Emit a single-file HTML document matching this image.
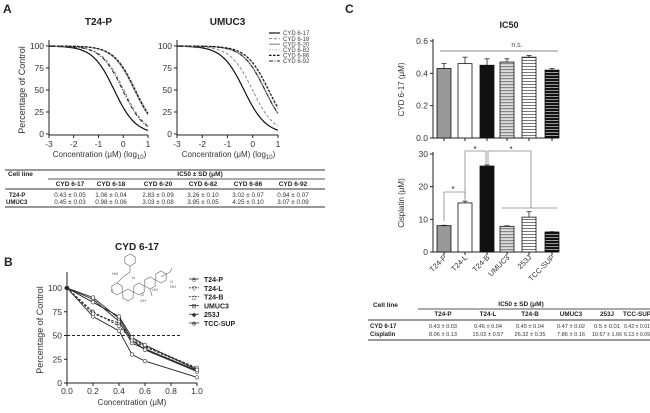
<!DOCTYPE html>
<html><head><meta charset="utf-8"><style>
body{margin:0;background:#fff;}
svg{display:block;font-family:"Liberation Sans",Arial,sans-serif;}
</style></head><body>
<svg id="fig" width="650" height="413" viewBox="0 0 650 413">
<defs>
<pattern id="stripeLight" width="4" height="3" patternUnits="userSpaceOnUse"><rect width="4" height="3" fill="#ddd"/><rect width="4" height="1.2" fill="#888"/></pattern>
<pattern id="stripeWhite" width="4" height="3" patternUnits="userSpaceOnUse"><rect width="4" height="3" fill="#fff"/><rect width="4" height="1" fill="#777"/></pattern>
<pattern id="stripeDark" width="4" height="3" patternUnits="userSpaceOnUse"><rect width="4" height="3" fill="#111"/><rect width="4" height="1" fill="#999"/></pattern>
</defs>
<g id="root"></g>
</svg>
<script>
// ---- Panel A data
const aCompounds = ["CYD 6-17","CYD 6-18","CYD 6-20","CYD 6-82","CYD 6-86","CYD 6-92"];
const aIC50T24P = [0.43,1.06,2.83,3.26,3.02,0.94];
const aIC50UMUC3 = [0.45,0.98,3.03,3.95,4.25,3.07];
const aSdT24P = ["0.05","0.04","0.09","0.10","0.07","0.07"];
const aSdUMUC3 = ["0.03","0.06","0.08","0.05","0.10","0.09"];
const aXTicks = [-3,-2,-1,0,1];
const aYTicks = [0,25,50,75,100];
// ---- Panel B data
const bConc = [0,0.2,0.4,0.5,0.6,1.0];
const bSeriesNames = ["T24-P","T24-L","T24-B","UMUC3","253J","TCC-SUP"];
const bT24P = [100,70,55,30,23,6];
const bT24L = [100,75,60,45,38,15];
const bT24B = [100,73,63,47,39,16];
const bUMUC3 = [100,88,65,42,36,13];
const b253J = [100,90,68,45,35,12];
const bTCCSUP = [100,85,70,48,40,14];
const bXTicks = [0,0.2,0.4,0.6,0.8,1.0];
const bYTicks = [0,25,50,75,100];
// ---- Panel C data
const cCells = ["T24-P","T24-L","T24-B","UMUC3","253J","TCC-SUP"];
const cCyd = [0.43,0.46,0.45,0.47,0.50,0.42];
const cCydSd = [0.03,0.04,0.04,0.02,0.01,0.01];
const cCis = [8.06,15.02,26.32,7.86,10.67,6.13];
const cCisSd = [0.13,0.57,0.35,0.16,1.66,0.09];
const cCydTicks = [0.0,0.2,0.4,0.6];
const cCisTicks = [0,10,20,30];

const NS="http://www.w3.org/2000/svg";
const root=document.getElementById('root');
function el(tag,attrs,parent,text){const e=document.createElementNS(NS,tag);for(const k in attrs)e.setAttribute(k,attrs[k]);if(text!==undefined)e.textContent=text;(parent||root).appendChild(e);return e;}

function txt(x,y,s,size,opt,name){
  const t=el('text',Object.assign({x:x,y:y,'font-size':size,fill:'#222'},opt||{}),root,s);
  
  
  return t;
}
function line(x1,y1,x2,y2,stroke,w,dash){return el('line',{x1,y1,x2,y2,stroke:stroke||'#222','stroke-width':w||1,'stroke-dasharray':dash||'none'});}

txt(3,13,"A",12,{'font-weight':'bold'},'panel-a-label');
txt(4,266,"B",12,{'font-weight':'bold'},'panel-b-label');
txt(345,13,"C",12,{'font-weight':'bold'},'panel-c-label');

const styles=[{s:'#111',d:'none',w:1.2},{s:'#888',d:'3,2',w:1},{s:'#999',d:'none',w:1.3},{s:'#bbb',d:'1.5,1.5',w:1},{s:'#111',d:'2.5,1.5',w:1.2},{s:'#222',d:'4,1.5,1,1.5',w:1}];
function doseChart(x0,x1,title,ic){
  const y0=134,y1=46;
  const xs=v=>x0+(v+3)/4*(x1-x0);
  const ys=v=>y0-v/100*(y0-y1);
  txt((x0+x1)/2,25,title,10,{'text-anchor':'middle','font-weight':'bold'},'chart-title');
  line(x0,y0+1,x0,40);line(x0,y0+1,x1,y0+1);
  aYTicks.forEach(v=>{line(x0-3,ys(v),x0,ys(v));txt(x0-5,ys(v)+3,String(v),8.5,{'text-anchor':'end','fill':'#333'},'y-tick-label');});
  aXTicks.forEach(v=>{line(xs(v),y0+1,xs(v),y0+4);txt(xs(v),y0+13,String(v),8.5,{'text-anchor':'middle','fill':'#333'},'x-tick-label');});
  const xt=txt((x0+x1)/2+1,y0+23,"Concentration (μM) (log",8,{'text-anchor':'middle','fill':'#333'},'x-axis-title');
  el('tspan',{'font-size':6,dy:2},xt,"10");el('tspan',{dy:-2},xt,")");
  ic.forEach((c,i)=>{
    const lc=Math.log10(c);let d='';
    for(let k=0;k<=80;k++){const x=-3+4*k/80;const y=100/(1+Math.pow(10,x-lc));d+=(k?'L':'M')+xs(x).toFixed(1)+','+ys(y).toFixed(1);}
    const p=el('path',{d:d,fill:'none',stroke:styles[i].s,'stroke-width':styles[i].w,'stroke-dasharray':styles[i].d});
    
    
  });
}
doseChart(49,148,"T24-P",aIC50T24P);
doseChart(177,278,"UMUC3",aIC50UMUC3);
txt(0,0,"Percentage of Control",9,{'text-anchor':'middle','transform':'translate(25,90) rotate(-90)','fill':'#333'},'y-axis-title');
aCompounds.forEach((n,i)=>{const y=33+i*5.6;const l=line(269,y,280,y,styles[i].s,styles[i].w,styles[i].d);txt(283,y+2.2,n,6,{'fill':'#444'},'legend-entry');});

line(5,170,325,170,'#333',1);
txt(8,176,"Cell line",6.5,{'font-weight':'bold'},'table-a-header');
txt(200,176,"IC50 ± SD (μM)",6.5,{'font-weight':'bold','text-anchor':'middle'},'table-a-header');
line(48,179,325,179,'#555',1);
const aCols=[70,111,158,203,248,293];
aCompounds.forEach((n,i)=>txt(aCols[i],186,n,6.5,{'font-weight':'bold','text-anchor':'middle'},'table-a-col-header'));
line(5,189,325,189,'#333',1);
txt(9,197,"T24-P",6,{'font-weight':'bold'},'table-a-row-label');
txt(6,204,"UMUC3",6,{'font-weight':'bold'},'table-a-row-label');
aCompounds.forEach((n,i)=>{txt(aCols[i],197,aIC50T24P[i].toFixed(2)+" ± "+aSdT24P[i],6.3,{'text-anchor':'middle','fill':'#333'},'table-a-cell');txt(aCols[i],204,aIC50UMUC3[i].toFixed(2)+" ± "+aSdUMUC3[i],6.3,{'text-anchor':'middle','fill':'#333'},'table-a-cell');});
line(5,207,325,207,'#333',1);

(function(){
  const x0=67,x1=197,y0=383,y1=288;
  const xs=v=>x0+v*(x1-x0);const ys=v=>y0-v/100*(y0-y1);
  txt(137,250,"CYD 6-17",10,{'text-anchor':'middle','font-weight':'bold'},'chart-b-title');
  const g=el('g',{stroke:'#777',fill:'none','stroke-width':0.7});
  function hex(cx,cy,r){let d='';for(let k=0;k<6;k++){const a=Math.PI/6+k*Math.PI/3;d+=(k?'L':'M')+(cx+r*Math.cos(a)).toFixed(1)+','+(cy+r*Math.sin(a)).toFixed(1);}el('path',{d:d+'Z'},g);}
  hex(130,260,6);hex(117,289,6);hex(128,295,6);hex(139,289,6);hex(150,283,6);hex(161,277,6);
  el('path',{d:'M130,266L130,272L123,277L117,283M161,277L170,272L172,268M150,289L152,296'},g);
  [["HN",112,275],["N",132,279],["S",111,292],["OH",170,288],["O",170,283],["OH",152,291],["OH",140,302],["O",141,296]].forEach(a=>txt(a[1],a[2],a[0],4,{'fill':'#555'},'structure-atom'));
  line(x0,y0,x0,272);line(x0,y0,x1,y0);
  bYTicks.forEach(v=>{line(x0-3,ys(v),x0,ys(v));txt(x0-5,ys(v)+3,String(v),8.5,{'text-anchor':'end','fill':'#333'},'y-tick-label');});
  bXTicks.forEach(v=>{line(xs(v),y0,xs(v),y0+3);txt(xs(v),y0+11,v.toFixed(1),8.5,{'text-anchor':'middle','fill':'#333'},'x-tick-label');});
  txt(132,405,"Concentration (μM)",8,{'text-anchor':'middle','fill':'#333'},'x-axis-title');
  txt(0,0,"Percentage of Control",9,{'text-anchor':'middle','transform':'translate(43,330) rotate(-90)','fill':'#333'},'y-axis-title');
  const ref=line(x0,ys(50),182,ys(50),'#222',1,'3,2');
  const series=[bT24P,bT24L,bT24B,bUMUC3,b253J,bTCCSUP];
  const dashes=['none','2.5,1.5','2.5,1.5','none','none','none'];
  series.forEach((s,i)=>{
    const d=s.map((v,k)=>(k?'L':'M')+xs(bConc[k]).toFixed(1)+','+ys(v).toFixed(1)).join('');
    const p=el('path',{d:d,fill:'none',stroke:'#222','stroke-width':0.9,'stroke-dasharray':dashes[i]});
    
    s.forEach((v,k)=>{const c=el('circle',{cx:xs(bConc[k]),cy:ys(v),r:1.8,fill:k==0?'#222':'#fff',stroke:'#333','stroke-width':0.6});});
  });
  const mk=['⊖','▽','△','⊟','◆','⊕'];
  bSeriesNames.forEach((n,i)=>{const y=279+i*8.8;line(189,y,199,y,'#333',0.8,i>0&&i<3?'2,1':'none');txt(194,y+2.5,mk[i],6,{'text-anchor':'middle','fill':'#333'},'legend-marker');txt(204,y+3,n,7,{'font-weight':'bold'},'legend-entry');});
})();

const fills=['#999','#fff','#111','url(#stripeLight)','url(#stripeWhite)','url(#stripeDark)'];
const cX=[444,465,487,507,529,552];
function barChart(vals,sds,ticks,max,y0,y1,title,tprefix){
  const ys=v=>y0-v/max*(y0-y1);
  line(433,y0,433,y1-2);line(433,y0,558,y0);
  ticks.forEach(v=>{line(430,ys(v),433,ys(v));txt(428,ys(v)+3,max<1?v.toFixed(1):String(v),8.5,{'text-anchor':'end','fill':'#333'},'y-tick-label');});
  cX.forEach(x=>line(x,y0,x,y0+3));
  txt(0,0,title,8,{'text-anchor':'middle','transform':`translate(404,${(y0+y1)/2}) rotate(-90)`,'fill':'#333'},'y-axis-title');
  vals.forEach((v,i)=>{
    line(cX[i],ys(v+sds[i]),cX[i],ys(v),'#222',0.8);line(cX[i]-2.5,ys(v+sds[i]),cX[i]+2.5,ys(v+sds[i]),'#222',0.8);
    const r=el('rect',{x:cX[i]-7,y:ys(v),width:14,height:y0-ys(v),fill:fills[i],stroke:'#111','stroke-width':0.8});
    
  });
  return ys;
}
txt(509,28,"IC50",9,{'text-anchor':'middle','font-weight':'bold'},'chart-c-title');
barChart(cCyd,cCydSd,cCydTicks,0.6,138,41,"CYD 6-17 (μM)",'cyd');
line(440,51,558,51,'#888',1);txt(517,47,"n.s.",7,{'text-anchor':'middle','fill':'#555'},'ns-label');
const ysC=barChart(cCis,cCisSd,cCisTicks,30,252,154,"Cisplatin (μM)",'cisplatin');
function br(d){const p=el('path',{d:d,fill:'none',stroke:'#888','stroke-width':0.8});}
br(`M${cX[0]},${ysC(9.5)}L${cX[0]},192L${cX[1]},192L${cX[1]},${ysC(16)}`);
br(`M${cX[1]},${ysC(16.5)}L${cX[1]},151L${cX[2]-1},151L${cX[2]-1},${ysC(27)}`);
br(`M${cX[2]+1},${ysC(27)}L${cX[2]+1},151L${cX[4]+2},151L${cX[4]+2},208`);
br(`M${cX[3]-5},208L${cX[5]+5},208`);
txt(453,192,"*",8,{'text-anchor':'middle'},'significance-star');
txt(475,152,"*",8,{'text-anchor':'middle'},'significance-star');
txt(511,152,"*",8,{'text-anchor':'middle'},'significance-star');
cCells.forEach((n,i)=>txt(cX[i]+3,258,n,7.5,{'text-anchor':'end','transform':`rotate(-45 ${cX[i]+3} 258)`,'fill':'#333'},'x-tick-label'));

txt(373,307,"Cell line",6.5,{'font-weight':'bold'},'table-c-header');
txt(521,306,"IC50 ± SD (μM)",6.5,{'font-weight':'bold','text-anchor':'middle'},'table-c-header');
line(418,309,650,309,'#555',1);
const tc=[443,488,530,571,607,637];
cCells.forEach((n,i)=>txt(tc[i],316,n,6.3,{'font-weight':'bold','text-anchor':'middle'},'table-c-col-header'));
line(368,320,650,320,'#333',1);
txt(370,328,"CYD 6-17",6,{'font-weight':'bold'},'table-c-row-label');
txt(370,336,"Cisplatin",6,{'font-weight':'bold'},'table-c-row-label');
const cydS=["0.43 ± 0.03","0.46 ± 0.04","0.45 ± 0.04","0.47 ± 0.02","0.5 ± 0.01","0.42 ± 0.01"];
const cisS=["8.06 ± 0.13","15.02 ± 0.57","26.32 ± 0.35","7.86 ± 0.16","10.67 ± 1.66","6.13 ± 0.09"];
cCells.forEach((n,i)=>{
  const o1={'text-anchor':'middle','fill':'#333'};const o2={'text-anchor':'middle','fill':'#333'};
  if(i>=4){o1.textLength=26;o1.lengthAdjust='spacingAndGlyphs';o2.textLength=i==4?30:26;o2.lengthAdjust='spacingAndGlyphs';}
  txt(tc[i],328,cydS[i],5.6,o1,'table-c-cell');txt(tc[i],336,cisS[i],5.6,o2,'table-c-cell');});
line(368,340,650,340,'#333',1);
</script>
</body></html>
